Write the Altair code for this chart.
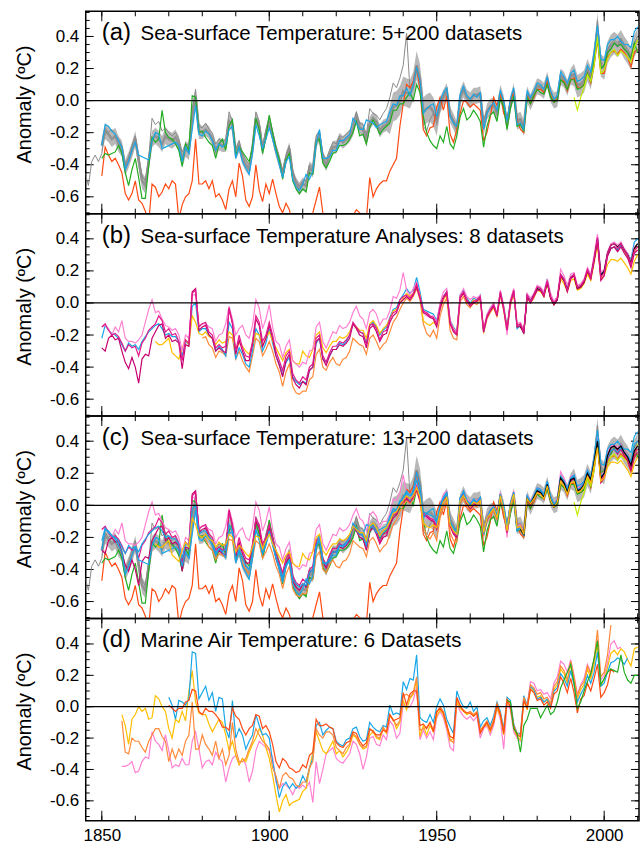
import altair as alt
import pandas as pd

FONT = "Liberation Sans"

# ---------------- tick / label values ----------------
X_MINOR = [1850, 1860, 1870, 1880, 1890, 1900, 1910, 1920, 1930, 1940,
           1950, 1960, 1970, 1980, 1990, 2000, 2010]
X_MAJOR = [1850, 1900, 1950, 2000]
Y_MINOR = [-0.70, -0.65, -0.60, -0.55, -0.50, -0.45, -0.40, -0.35, -0.30,
           -0.25, -0.20, -0.15, -0.10, -0.05, 0.00, 0.05, 0.10, 0.15, 0.20,
           0.25, 0.30, 0.35, 0.40, 0.45, 0.50, 0.55]
Y_MAJOR = [-0.6, -0.4, -0.2, 0.0, 0.2, 0.4]

PANEL_TAGS = ["(a)", "(b)", "(c)", "(d)"]
PANEL_TEXTS = ["Sea-surface Temperature: 5+200 datasets",
               "Sea-surface Temperature Analyses: 8 datasets",
               "Sea-surface Temperature: 13+200 datasets",
               "Marine Air Temperature: 6 Datasets"]
Y_TITLE = "Anomaly (ºC)"

# ---------------- SST: 200-member ensemble (1850-2010) ----------------
HADSST_MED = [
    -0.28, -0.19, -0.21, -0.24, -0.22, -0.27, -0.30, -0.42, -0.37, -0.31,
    -0.24, -0.37, -0.50, -0.53, -0.38, -0.24, -0.22, -0.24, -0.27, -0.22,
    -0.24, -0.25, -0.23, -0.27, -0.37, -0.30, -0.32, -0.10, 0.03, -0.19,
    -0.20, -0.18, -0.20, -0.24, -0.31, -0.27, -0.28, -0.28, -0.13, -0.15,
    -0.33, -0.28, -0.36, -0.40, -0.43, -0.30, -0.11, -0.16, -0.31, -0.21,
    -0.13, -0.22, -0.31, -0.38, -0.46, -0.36, -0.30, -0.46, -0.52, -0.55,
    -0.52, -0.53, -0.42, -0.44, -0.25, -0.22, -0.36, -0.40, -0.34, -0.29,
    -0.29, -0.24, -0.26, -0.24, -0.22, -0.18, -0.10, -0.17, -0.18, -0.25,
    -0.14, -0.11, -0.13, -0.19, -0.16, -0.15, -0.12, -0.04, -0.03, 0.00,
    0.06, 0.05, 0.04, 0.09, 0.22, 0.14, -0.07, -0.05, -0.04, -0.07,
    -0.13, -0.03, 0.02, 0.06, -0.09, -0.13, -0.18, 0.02, 0.07, 0.02,
    0.00, 0.03, 0.03, 0.04, -0.17, -0.07, -0.04, -0.03, -0.08, 0.05,
    -0.02, -0.15, -0.02, 0.06, -0.13, -0.12, -0.17, 0.04, -0.01, 0.04,
    0.09, 0.08, 0.06, 0.13, 0.04, 0.00, 0.01, 0.15, 0.13, 0.08,
    0.15, 0.16, 0.09, 0.10, 0.12, 0.19, 0.14, 0.27, 0.44, 0.22,
    0.20, 0.30, 0.34, 0.36, 0.34, 0.37, 0.33, 0.30, 0.26, 0.34,
    0.38]
HADSST_LO = [
    -0.33, -0.24, -0.26, -0.29, -0.27, -0.32, -0.35, -0.47, -0.42, -0.36,
    -0.29, -0.42, -0.55, -0.58, -0.43, -0.29, -0.27, -0.29, -0.32, -0.27,
    -0.29, -0.30, -0.28, -0.32, -0.42, -0.35, -0.37, -0.15, -0.02, -0.24,
    -0.24, -0.22, -0.24, -0.28, -0.35, -0.31, -0.32, -0.32, -0.17, -0.19,
    -0.37, -0.32, -0.40, -0.44, -0.47, -0.34, -0.15, -0.20, -0.35, -0.25,
    -0.17, -0.26, -0.35, -0.42, -0.50, -0.40, -0.34, -0.50, -0.56, -0.59,
    -0.56, -0.57, -0.46, -0.48, -0.29, -0.26, -0.40, -0.44, -0.38, -0.33,
    -0.33, -0.28, -0.30, -0.28, -0.26, -0.22, -0.14, -0.21, -0.22, -0.29,
    -0.18, -0.15, -0.17, -0.23, -0.20, -0.19, -0.21, -0.13, -0.12, -0.09,
    -0.03, -0.04, -0.05, 0.00, 0.13, 0.05, -0.16, -0.14, -0.13, -0.16,
    -0.22, -0.08, -0.03, 0.01, -0.14, -0.18, -0.23, -0.03, 0.02, -0.03,
    -0.05, -0.02, -0.02, -0.01, -0.22, -0.12, -0.09, -0.08, -0.13, 0.00,
    -0.07, -0.20, -0.07, 0.01, -0.18, -0.17, -0.22, -0.01, -0.06, -0.01,
    0.04, 0.03, 0.01, 0.08, -0.01, -0.05, -0.04, 0.10, 0.08, 0.03,
    0.10, 0.09, 0.02, 0.03, 0.05, 0.12, 0.07, 0.20, 0.36, 0.15,
    0.13, 0.23, 0.27, 0.29, 0.27, 0.30, 0.26, 0.23, 0.19, 0.27,
    0.31]
HADSST_HI = [
    -0.23, -0.14, -0.16, -0.19, -0.17, -0.22, -0.25, -0.37, -0.32, -0.26,
    -0.19, -0.32, -0.45, -0.48, -0.33, -0.19, -0.17, -0.19, -0.22, -0.17,
    -0.19, -0.20, -0.18, -0.22, -0.32, -0.25, -0.27, -0.05, 0.08, -0.14,
    -0.16, -0.14, -0.16, -0.20, -0.27, -0.23, -0.24, -0.24, -0.09, -0.11,
    -0.29, -0.24, -0.32, -0.36, -0.39, -0.26, -0.07, -0.12, -0.27, -0.17,
    -0.09, -0.18, -0.27, -0.34, -0.42, -0.32, -0.26, -0.42, -0.48, -0.51,
    -0.48, -0.49, -0.38, -0.40, -0.21, -0.18, -0.32, -0.36, -0.30, -0.25,
    -0.25, -0.20, -0.22, -0.20, -0.18, -0.14, -0.06, -0.13, -0.14, -0.21,
    -0.10, -0.07, -0.09, -0.15, -0.12, -0.11, -0.03, 0.05, 0.06, 0.09,
    0.15, 0.14, 0.13, 0.18, 0.31, 0.23, 0.02, 0.04, 0.05, 0.02,
    -0.04, 0.02, 0.07, 0.11, -0.04, -0.08, -0.13, 0.07, 0.12, 0.07,
    0.05, 0.08, 0.08, 0.09, -0.12, -0.02, 0.01, 0.02, -0.03, 0.10,
    0.03, -0.10, 0.03, 0.11, -0.08, -0.07, -0.12, 0.09, 0.04, 0.09,
    0.14, 0.13, 0.11, 0.18, 0.09, 0.05, 0.06, 0.20, 0.18, 0.13,
    0.20, 0.23, 0.16, 0.17, 0.19, 0.26, 0.21, 0.34, 0.55, 0.29,
    0.27, 0.37, 0.41, 0.43, 0.41, 0.44, 0.40, 0.37, 0.33, 0.41,
    0.45]

# ---------------- SST datasets (panel a) ----------------
GRAY_RAW_START = 1845
GRAY_RAW = [
    -0.45, -0.53, -0.38, -0.34, -0.38,
    -0.33, -0.17, -0.20, -0.18, -0.21, -0.24, -0.28, -0.40, -0.35, -0.28,
    -0.22, -0.35, -0.47, -0.50, -0.36, -0.11, -0.15, -0.13, -0.19, -0.17,
    -0.20, -0.22, -0.20, -0.24, -0.32, -0.27, -0.28, -0.05, 0.07, -0.16,
    -0.17, -0.14, -0.18, -0.20, -0.27, -0.24, -0.26, -0.24, -0.07, -0.13,
    -0.30, -0.25, -0.33, -0.37, -0.40, -0.27, -0.07, -0.13, -0.28, -0.18,
    -0.10, -0.19, -0.28, -0.35, -0.44, -0.34, -0.28, -0.44, -0.50, -0.53,
    -0.50, -0.50, -0.40, -0.42, -0.22, -0.19, -0.33, -0.37, -0.31, -0.26,
    -0.27, -0.22, -0.23, -0.21, -0.19, -0.14, -0.07, -0.14, -0.15, -0.21,
    -0.05, -0.08, -0.09, -0.12, -0.08, -0.05, 0.02, 0.11, 0.08, 0.14,
    0.22, 0.42, 0.07, 0.12, 0.18, 0.10, -0.16, -0.19, -0.12, -0.08,
    -0.12, -0.02, 0.03, 0.07, -0.08, -0.12, -0.16, 0.03, 0.08, 0.03,
    0.01, 0.04, 0.04, 0.05, -0.12, -0.06, -0.03, -0.02, -0.07, 0.06,
    -0.01, -0.14, -0.01, 0.07, -0.12, -0.11, -0.16, 0.05, 0.00, 0.05,
    0.10, 0.09, 0.07, 0.14, 0.05, 0.01, 0.02, 0.16, 0.14, 0.09,
    0.16, 0.17, 0.10, 0.11, 0.13, 0.20, 0.15, 0.28, 0.50, 0.24,
    0.22, 0.32, 0.36, 0.38, 0.36, 0.39, 0.35, 0.32, 0.28, 0.36,
    0.40]
SST_BLUE = [
    -0.28, -0.15, -0.16, -0.19, -0.21, -0.25, -0.29, -0.43, -0.38, -0.31,
    -0.26, -0.34, -0.35, -0.36, -0.37, -0.25, -0.20, -0.21, -0.30, -0.29,
    -0.28, -0.27, -0.26, -0.28, -0.38, -0.29, -0.33, -0.18, -0.03, -0.21,
    -0.22, -0.19, -0.21, -0.25, -0.31, -0.27, -0.29, -0.27, -0.18, -0.16,
    -0.36, -0.29, -0.38, -0.42, -0.46, -0.33, -0.15, -0.22, -0.30, -0.24,
    -0.17, -0.24, -0.32, -0.40, -0.48, -0.38, -0.35, -0.49, -0.54, -0.56,
    -0.52, -0.46, -0.49, -0.44, -0.27, -0.18, -0.36, -0.36, -0.35, -0.31,
    -0.31, -0.25, -0.25, -0.23, -0.21, -0.11, -0.14, -0.18, -0.18, -0.12,
    -0.13, -0.14, -0.17, -0.15, -0.14, -0.13, -0.07, -0.02, -0.03, 0.03,
    0.03, 0.08, 0.03, 0.10, 0.21, 0.12, -0.08, -0.05, -0.03, -0.02,
    -0.10, 0.00, 0.05, 0.08, -0.10, -0.14, -0.16, 0.04, 0.09, 0.03,
    0.01, 0.04, 0.02, 0.05, -0.18, -0.08, -0.04, -0.01, -0.06, 0.06,
    0.00, -0.13, 0.01, 0.08, -0.15, -0.14, -0.18, 0.06, 0.02, 0.06,
    0.11, 0.10, 0.07, 0.15, 0.06, 0.01, 0.03, 0.18, 0.15, 0.11,
    0.17, 0.19, 0.12, 0.13, 0.15, 0.22, 0.18, 0.30, 0.47, 0.26,
    0.25, 0.35, 0.38, 0.38, 0.40, 0.37, 0.35, 0.35, 0.33, 0.43,
    0.46]
SST_GREEN = [
    -0.36, -0.33, -0.34, -0.33, -0.32, -0.28, -0.33, -0.45, -0.53, -0.43,
    -0.36, -0.48, -0.61, -0.61, -0.41, -0.23, -0.26, -0.24, -0.06, -0.20,
    -0.23, -0.24, -0.27, -0.31, -0.41, -0.27, -0.31, 0.03, 0.02, -0.20,
    -0.19, -0.23, -0.26, -0.28, -0.36, -0.27, -0.24, -0.31, -0.16, -0.12,
    -0.34, -0.29, -0.32, -0.35, -0.38, -0.29, -0.11, -0.18, -0.33, -0.23,
    -0.09, -0.20, -0.30, -0.37, -0.49, -0.37, -0.33, -0.50, -0.55, -0.58,
    -0.55, -0.57, -0.45, -0.46, -0.26, -0.24, -0.39, -0.42, -0.38, -0.33,
    -0.32, -0.28, -0.28, -0.27, -0.24, -0.20, -0.13, -0.22, -0.21, -0.27,
    -0.17, -0.12, -0.16, -0.21, -0.18, -0.16, -0.14, -0.06, -0.06, -0.02,
    -0.02, 0.02, 0.05, 0.00, 0.10, 0.05, -0.10, -0.20, -0.25, -0.28,
    -0.30, -0.22, -0.26, -0.16, -0.27, -0.30, -0.22, -0.10, -0.05, -0.12,
    -0.10, -0.06, -0.09, -0.13, -0.29, -0.16, -0.09, -0.07, -0.13, 0.01,
    -0.04, -0.18, -0.05, 0.03, -0.16, -0.15, -0.19, 0.02, -0.02, 0.03,
    0.07, 0.05, 0.04, 0.10, 0.02, -0.01, 0.00, 0.13, 0.11, 0.07,
    0.13, 0.13, 0.07, 0.08, 0.10, 0.17, 0.12, 0.25, 0.40, 0.20,
    0.22, 0.30, 0.32, 0.36, 0.34, 0.35, 0.32, 0.30, 0.26, 0.36,
    0.30]
SST_RED = [
    -0.47, -0.29, -0.34, -0.38, -0.36, -0.40, -0.45, -0.58, -0.62, -0.58,
    -0.50, -0.62, -0.64, -0.69, -0.76, -0.52, -0.54, -0.60, -0.57, -0.52,
    -0.55, -0.50, -0.52, -0.74, -0.65, -0.60, -0.58, -0.50, -0.24, -0.52,
    -0.52, -0.50, -0.55, -0.50, -0.60, -0.58, -0.62, -0.68, -0.55, -0.50,
    -0.60, -0.39, -0.47, -0.62, -0.66, -0.60, -0.40, -0.56, -0.63, -0.52,
    -0.58, -0.49, -0.58, -0.66, -0.70, -0.64, -0.68, -0.78, -0.72, -0.80,
    -0.74, -0.82, -0.76, -0.70, -0.62, -0.54, -0.70, -0.80, -0.78, -0.72,
    -0.74, -0.80, -0.76, -0.74, -0.73, -0.72, -0.68, -0.70, -0.72, -0.74,
    -0.48, -0.60, -0.55, -0.52, -0.50, -0.50, -0.44, -0.40, -0.36, -0.16,
    -0.02, 0.10, 0.08, 0.12, 0.21, 0.07, -0.18, -0.22, -0.17, -0.16,
    -0.04, 0.02, -0.06, 0.03, -0.21, -0.26, -0.18, -0.08, 0.00, -0.01,
    -0.04, -0.02, -0.04, -0.06, -0.25, -0.20, -0.10, 0.02, -0.03, 0.04,
    -0.08, -0.12, 0.00, 0.05, -0.12, -0.18, -0.20, 0.03, -0.02, 0.02,
    0.07, 0.07, 0.05, 0.12, 0.03, -0.01, 0.01, 0.13, 0.12, 0.06,
    0.13, 0.14, 0.08, 0.08, 0.10, 0.17, 0.11, 0.22, 0.38, 0.17,
    0.17, 0.27, 0.30, 0.31, 0.29, 0.32, 0.30, 0.27, 0.21, 0.30,
    0.32]
SST_YGREEN_START = 1991
SST_YGREEN = [0.02, -0.06, 0.02, 0.08, 0.16, 0.12, 0.22, 0.40, 0.17,
              0.19, 0.26, 0.30, 0.32, 0.28, 0.31, 0.29, 0.27, 0.24, 0.33,
              0.38]

# ---------------- SST analyses (panel b) ----------------
ANA_DKMAG = [
    -0.28, -0.30, -0.22, -0.20, -0.23, -0.22, -0.30, -0.37, -0.41, -0.34,
    -0.40, -0.50, -0.35, -0.32, -0.33, -0.22, -0.18, -0.14, -0.13, -0.22,
    -0.20, -0.24, -0.23, -0.25, -0.41, -0.26, -0.27, 0.07, 0.09, -0.17,
    -0.15, -0.14, -0.20, -0.22, -0.30, -0.28, -0.30, -0.31, -0.03, -0.13,
    -0.32, -0.23, -0.30, -0.36, -0.36, -0.26, -0.10, -0.14, -0.27, -0.22,
    -0.14, -0.22, -0.33, -0.39, -0.46, -0.36, -0.32, -0.47, -0.51, -0.53,
    -0.49, -0.51, -0.42, -0.40, -0.24, -0.22, -0.35, -0.39, -0.33, -0.29,
    -0.29, -0.26, -0.27, -0.25, -0.22, -0.13, -0.16, -0.20, -0.21, -0.28,
    -0.16, -0.14, -0.18, -0.24, -0.20, -0.19, -0.12, -0.08, -0.06, 0.00,
    0.02, 0.04, 0.02, 0.05, 0.10, 0.03, -0.06, -0.07, -0.09, -0.10,
    -0.15, -0.04, 0.03, 0.06, -0.13, -0.18, -0.20, 0.03, 0.06, 0.01,
    -0.02, 0.00, 0.01, 0.03, -0.18, -0.09, -0.05, -0.02, -0.08, 0.06,
    -0.04, -0.17, 0.00, 0.07, -0.15, -0.14, -0.19, 0.04, 0.00, 0.04,
    0.08, 0.08, 0.04, 0.13, 0.03, -0.01, 0.02, 0.17, 0.14, 0.07,
    0.15, 0.17, 0.09, 0.10, 0.13, 0.20, 0.15, 0.26, 0.39, 0.14,
    0.17, 0.29, 0.34, 0.35, 0.32, 0.35, 0.31, 0.28, 0.22, 0.31,
    0.33]
ANA_MAG = [
    -0.15, -0.13, -0.17, -0.20, -0.19, -0.21, -0.25, -0.30, -0.26, -0.28,
    -0.27, -0.33, -0.25, -0.22, -0.17, -0.15, -0.13, -0.08, -0.11, -0.18,
    -0.16, -0.20, -0.19, -0.24, -0.36, -0.23, -0.25, 0.06, 0.08, -0.15,
    -0.13, -0.12, -0.18, -0.20, -0.28, -0.26, -0.28, -0.27, -0.04, -0.12,
    -0.30, -0.20, -0.28, -0.33, -0.34, -0.24, -0.08, -0.12, -0.24, -0.20,
    -0.12, -0.20, -0.30, -0.36, -0.42, -0.33, -0.30, -0.44, -0.48, -0.50,
    -0.46, -0.48, -0.40, -0.38, -0.22, -0.20, -0.33, -0.37, -0.31, -0.27,
    -0.27, -0.24, -0.25, -0.23, -0.20, -0.12, -0.15, -0.18, -0.19, -0.26,
    -0.14, -0.13, -0.16, -0.23, -0.18, -0.17, -0.10, -0.06, -0.05, 0.02,
    0.04, 0.05, 0.03, 0.06, 0.12, 0.04, -0.05, -0.06, -0.08, -0.09,
    -0.13, -0.02, 0.04, 0.07, -0.12, -0.17, -0.19, 0.04, 0.07, 0.02,
    -0.01, 0.01, 0.02, 0.04, -0.17, -0.08, -0.04, -0.01, -0.07, 0.07,
    -0.03, -0.16, 0.01, 0.08, -0.14, -0.13, -0.18, 0.05, 0.01, 0.05,
    0.10, 0.09, 0.05, 0.14, 0.04, 0.00, 0.03, 0.18, 0.15, 0.08,
    0.16, 0.18, 0.10, 0.11, 0.14, 0.21, 0.16, 0.28, 0.41, 0.16,
    0.19, 0.31, 0.36, 0.37, 0.34, 0.37, 0.33, 0.30, 0.24, 0.33,
    0.35]
ANA_PINK = [
    -0.15, -0.14, -0.16, -0.20, -0.15, -0.18, -0.11, -0.22, -0.24, -0.24,
    -0.25, -0.23, -0.20, -0.12, -0.04, 0.02, -0.06, -0.05, -0.10, -0.14,
    -0.15, -0.17, -0.16, -0.20, -0.30, -0.20, -0.22, 0.05, 0.05, -0.14,
    -0.13, -0.13, -0.15, -0.16, -0.24, -0.20, -0.19, -0.13, -0.02, -0.10,
    -0.20, -0.16, -0.14, -0.20, -0.22, -0.14, 0.02, -0.03, -0.16, -0.10,
    -0.01, -0.15, -0.24, -0.26, -0.34, -0.27, -0.23, -0.36, -0.38, -0.40,
    -0.37, -0.38, -0.30, -0.29, -0.15, -0.12, -0.24, -0.28, -0.23, -0.18,
    -0.19, -0.14, -0.16, -0.15, -0.12, -0.06, -0.02, -0.08, -0.10, -0.16,
    -0.06, -0.04, -0.07, -0.14, -0.10, -0.10, -0.05, 0.04, 0.03, 0.08,
    0.19, 0.08, 0.05, 0.09, 0.13, 0.04, -0.06, -0.08, -0.09, -0.08,
    -0.12, 0.00, 0.07, 0.09, -0.11, -0.16, -0.18, 0.05, 0.09, 0.04,
    0.02, 0.04, 0.03, 0.05, -0.17, -0.07, -0.03, 0.00, -0.07, 0.08,
    -0.02, -0.20, 0.02, 0.09, -0.13, -0.12, -0.17, 0.06, 0.03, 0.06,
    0.11, 0.10, 0.07, 0.15, 0.06, 0.01, 0.04, 0.21, 0.17, 0.11,
    0.18, 0.19, 0.11, 0.12, 0.15, 0.22, 0.18, 0.30, 0.43, 0.19,
    0.21, 0.32, 0.37, 0.38, 0.36, 0.38, 0.34, 0.31, 0.26, 0.35,
    0.37]
ANA_BLUE = [
    -0.22, -0.14, -0.17, -0.19, -0.20, -0.22, -0.26, -0.30, -0.25, -0.27,
    -0.26, -0.29, -0.24, -0.21, -0.18, -0.16, -0.14, -0.13, -0.16, -0.20,
    -0.19, -0.21, -0.21, -0.24, -0.33, -0.24, -0.26, -0.02, 0.00, -0.18,
    -0.16, -0.16, -0.20, -0.22, -0.30, -0.27, -0.29, -0.33, -0.12, -0.16,
    -0.35, -0.28, -0.32, -0.38, -0.40, -0.30, -0.16, -0.20, -0.30, -0.25,
    -0.16, -0.25, -0.33, -0.38, -0.45, -0.37, -0.34, -0.46, -0.49, -0.51,
    -0.49, -0.50, -0.42, -0.40, -0.25, -0.22, -0.35, -0.37, -0.33, -0.29,
    -0.29, -0.25, -0.26, -0.24, -0.20, -0.13, -0.15, -0.18, -0.19, -0.25,
    -0.14, -0.12, -0.15, -0.20, -0.17, -0.15, -0.09, -0.04, -0.03, 0.02,
    0.05, 0.09, 0.06, 0.08, 0.16, 0.07, -0.04, -0.05, -0.06, -0.07,
    -0.11, -0.01, 0.04, 0.07, -0.11, -0.15, -0.18, 0.05, 0.08, 0.03,
    0.00, 0.03, 0.02, 0.05, -0.18, -0.08, -0.03, -0.01, -0.07, 0.07,
    -0.02, -0.15, 0.01, 0.08, -0.16, -0.14, -0.19, 0.05, 0.02, 0.05,
    0.10, 0.09, 0.06, 0.15, 0.04, 0.00, 0.03, 0.18, 0.15, 0.09,
    0.16, 0.18, 0.10, 0.11, 0.14, 0.21, 0.17, 0.28, 0.41, 0.18,
    0.20, 0.30, 0.34, 0.35, 0.33, 0.36, 0.33, 0.31, 0.27, 0.38,
    0.40]
ANA_GOLD_START = 1866
ANA_GOLD = [
    -0.24, -0.26, -0.26, -0.24,
    -0.22, -0.31, -0.33, -0.35, -0.28, -0.23, -0.26, -0.08, -0.12, -0.19,
    -0.20, -0.18, -0.21, -0.22, -0.26, -0.23, -0.25, -0.24, -0.18, -0.20,
    -0.29, -0.25, -0.27, -0.30, -0.32, -0.26, -0.19, -0.20, -0.27, -0.22,
    -0.18, -0.24, -0.28, -0.32, -0.36, -0.31, -0.29, -0.36, -0.38, -0.38,
    -0.30, -0.33, -0.34, -0.29, -0.20, -0.18, -0.28, -0.31, -0.27, -0.24,
    -0.24, -0.21, -0.22, -0.21, -0.18, -0.13, -0.15, -0.17, -0.17, -0.22,
    -0.13, -0.11, -0.14, -0.19, -0.16, -0.14, -0.10, -0.05, -0.04, 0.00,
    0.03, 0.06, 0.04, 0.06, 0.11, 0.05, -0.11, -0.13, -0.14, -0.12,
    -0.14, -0.04, 0.02, 0.05, -0.12, -0.16, -0.18, 0.03, 0.06, 0.02,
    -0.01, 0.02, 0.01, 0.03, -0.17, -0.08, -0.05, -0.02, -0.08, 0.06,
    -0.03, -0.16, 0.00, 0.07, -0.14, -0.13, -0.18, 0.04, 0.01, 0.04,
    0.08, 0.07, 0.04, 0.12, 0.03, -0.01, 0.02, 0.15, 0.12, 0.07,
    0.14, 0.15, 0.08, 0.09, 0.12, 0.18, 0.14, 0.25, 0.36, 0.15,
    0.17, 0.24, 0.27, 0.27, 0.26, 0.28, 0.25, 0.22, 0.18, 0.26,
    0.30]
ANA_ORANGE_START = 1880
ANA_ORANGE = [
    -0.22, -0.21, -0.26, -0.28, -0.34, -0.30, -0.31, -0.33, -0.21, -0.22,
    -0.35, -0.30, -0.36, -0.40, -0.43, -0.33, -0.22, -0.24, -0.33, -0.29,
    -0.24, -0.30, -0.38, -0.43, -0.52, -0.43, -0.38, -0.52, -0.56, -0.57,
    -0.55, -0.55, -0.48, -0.46, -0.32, -0.29, -0.40, -0.42, -0.37, -0.34,
    -0.38, -0.39, -0.35, -0.34, -0.30, -0.22, -0.24, -0.26, -0.27, -0.32,
    -0.22, -0.20, -0.24, -0.29, -0.26, -0.24, -0.18, -0.12, -0.09, -0.04,
    0.00, 0.03, 0.01, 0.04, 0.09, 0.02, -0.13, -0.19, -0.21, -0.17,
    -0.22, -0.08, -0.01, 0.03, -0.17, -0.22, -0.23, 0.01, 0.04, -0.01,
    -0.03, 0.00, -0.01, 0.02, -0.19, -0.10, -0.06, -0.03, -0.09, 0.05,
    -0.05, -0.18, -0.02, 0.06, -0.15, -0.15, -0.19, 0.03, 0.00, 0.03,
    0.08, 0.08, 0.04, 0.13, 0.03, -0.01, 0.02, 0.16, 0.14, 0.08,
    0.15, 0.17, 0.09, 0.10, 0.13, 0.19, 0.15, 0.27, 0.39, 0.17,
    0.19, 0.30, 0.34, 0.35, 0.33, 0.36, 0.32, 0.29, 0.24, 0.32,
    0.35]
ANA_BLACK_START = 1975
ANA_BLACK = [
    -0.15, -0.18, 0.04, 0.01, 0.05,
    0.09, 0.08, 0.05, 0.13, 0.03, -0.01, 0.02, 0.17, 0.14, 0.08,
    0.16, 0.17, 0.09, 0.10, 0.13, 0.20, 0.16, 0.27, 0.40, 0.17,
    0.20, 0.31, 0.36, 0.37, 0.35, 0.37, 0.33, 0.30, 0.25, 0.34,
    0.37]

# ---------------- Marine air temperature (panel d) ----------------
MAT_GOLD_START = 1856
MAT_GOLD = [
    -0.05, -0.12, -0.24, -0.08,
    -0.05, 0.00, -0.03, -0.01, -0.08, -0.07, 0.07, 0.05, 0.00, -0.03,
    -0.14, -0.20, -0.08, -0.10, -0.03, -0.09, 0.10, 0.23, 0.03, -0.04,
    -0.05, -0.05, -0.11, -0.16, -0.12, -0.08, -0.10, -0.18, -0.28, -0.22,
    -0.31, -0.37, -0.33, -0.35, -0.29, -0.24, -0.20, -0.14, -0.18, -0.26,
    -0.33, -0.44, -0.56, -0.67, -0.60, -0.56, -0.63, -0.61, -0.60, -0.59,
    -0.54, -0.52, -0.40, -0.29, -0.16, -0.22, -0.28, -0.30, -0.26, -0.22,
    -0.30, -0.28, -0.32, -0.29, -0.25, -0.18, -0.20, -0.24, -0.27, -0.26,
    -0.18, -0.16, -0.20, -0.21, -0.14, -0.17, -0.06, -0.08, -0.14, -0.10,
    0.04, -0.02, 0.05, 0.08, 0.17, -0.19, -0.12, -0.18, -0.12, -0.16,
    -0.06, -0.02, -0.05, -0.13, -0.22, -0.20, 0.03, -0.01, -0.03, -0.05,
    -0.04, -0.06, -0.04, -0.16, -0.13, -0.11, -0.16, -0.10, -0.01, -0.06,
    -0.18, 0.03, 0.00, -0.14, -0.19, -0.21, 0.04, -0.02, 0.12, 0.10,
    0.06, 0.07, 0.03, 0.04, 0.00, 0.11, 0.14, 0.24, 0.21, 0.15,
    0.27, 0.17, 0.05, 0.11, 0.14, 0.24, 0.18, 0.27, 0.40, 0.14,
    0.17, 0.25, 0.34, 0.36, 0.33, 0.37, 0.35, 0.30, 0.26, 0.37,
    0.38]
MAT_BLUE_START = 1870
MAT_BLUE = [
    0.06, 0.01, -0.08, 0.04, 0.03, 0.01, 0.05, 0.35, 0.34, 0.05,
    0.09, 0.13, 0.04, 0.09, -0.03, 0.06, 0.05, -0.14, -0.20, 0.04,
    -0.20, -0.14, -0.18, -0.27, -0.22, -0.18, -0.05, -0.12, -0.18, -0.17,
    -0.20, -0.35, -0.46, -0.58, -0.51, -0.48, -0.52, -0.49, -0.52, -0.50,
    -0.44, -0.48, -0.39, -0.33, -0.12, -0.10, -0.18, -0.15, -0.13, -0.14,
    -0.22, -0.24, -0.25, -0.21, -0.20, -0.14, -0.13, -0.19, -0.22, -0.21,
    -0.10, -0.13, -0.15, -0.16, -0.12, -0.13, 0.01, -0.05, -0.04, -0.05,
    0.16, 0.11, 0.18, 0.17, 0.33, -0.07, -0.09, -0.10, -0.05, -0.10,
    0.00, 0.05, 0.01, -0.08, -0.13, -0.17, 0.10, 0.04, 0.00, -0.01,
    0.03, -0.03, 0.00, -0.13, -0.09, -0.07, -0.12, -0.06, 0.03, -0.03,
    -0.14, 0.06, 0.04, -0.11, -0.17, -0.17, 0.07, 0.01, 0.13, 0.11,
    0.05, 0.06, 0.03, 0.05, 0.01, 0.10, 0.12, 0.21, 0.18, 0.13,
    0.23, 0.14, 0.03, 0.08, 0.12, 0.20, 0.15, 0.22, 0.35, 0.13,
    0.15, 0.22, 0.28, 0.29, 0.31, 0.30, 0.27, 0.31]
MAT_RED_START = 1870
MAT_RED = [
    0.01, -0.01, -0.03, -0.01, -0.01, 0.03, 0.04, 0.11, 0.10, -0.03,
    -0.05, -0.01, -0.03, -0.03, -0.05, -0.08, -0.13, -0.13, -0.15, -0.01,
    -0.06, -0.08, -0.14, -0.18, -0.14, -0.12, -0.05, -0.06, -0.14, -0.12,
    -0.16, -0.24, -0.35, -0.39, -0.33, -0.35, -0.39, -0.40, -0.42, -0.41,
    -0.37, -0.39, -0.31, -0.29, -0.08, -0.12, -0.12, -0.11, -0.13, -0.14,
    -0.23, -0.25, -0.26, -0.23, -0.22, -0.16, -0.17, -0.22, -0.25, -0.23,
    -0.14, -0.16, -0.18, -0.18, -0.15, -0.16, -0.05, -0.09, -0.08, -0.07,
    0.09, 0.01, 0.08, 0.10, 0.10, -0.12, -0.11, -0.14, -0.10, -0.16,
    -0.03, -0.01, -0.04, -0.12, -0.19, -0.20, 0.06, 0.01, -0.03, -0.04,
    -0.04, -0.06, -0.04, -0.17, -0.13, -0.10, -0.15, -0.10, 0.01, -0.05,
    -0.17, 0.04, 0.00, -0.13, -0.18, -0.19, 0.04, -0.01, 0.11, 0.09,
    0.04, 0.05, 0.01, 0.03, -0.01, 0.08, 0.10, 0.19, 0.15, 0.09,
    0.18, 0.09, -0.04, 0.05, 0.07, 0.15, 0.10, 0.18, 0.27, 0.06,
    0.09, 0.14, 0.24, 0.22]
MAT_ORANGE_START = 1856
MAT_ORANGE = [
    -0.09, -0.29, -0.30, -0.20,
    -0.22, -0.22, -0.26, -0.29, -0.22, -0.18, -0.14, -0.14, -0.19, -0.22,
    -0.35, -0.27, -0.33, -0.27, -0.31, -0.22, -0.18, 0.03, -0.27, -0.27,
    -0.18, -0.24, -0.27, -0.31, -0.22, -0.33, -0.27, -0.37, -0.31, -0.10,
    -0.27, -0.35, -0.35, -0.33, -0.27, -0.22, -0.14, -0.18, -0.22, -0.24,
    -0.27, -0.39, -0.44, -0.52, -0.44, -0.42, -0.45, -0.46, -0.50, -0.51,
    -0.48, -0.48, -0.39, -0.35, -0.14, -0.18, -0.20, -0.16, -0.16, -0.18,
    -0.26, -0.28, -0.30, -0.26, -0.24, -0.17, -0.19, -0.24, -0.26, -0.25,
    -0.15, -0.15, -0.19, -0.20, -0.13, -0.16, -0.05, -0.08, -0.12, -0.09,
    0.07, 0.08, 0.06, 0.09, 0.19, -0.15, -0.14, -0.13, -0.10, -0.15,
    -0.04, 0.00, -0.03, -0.11, -0.21, -0.23, 0.05, 0.00, -0.02, -0.04,
    -0.03, -0.05, -0.03, -0.15, -0.12, -0.09, -0.14, -0.08, 0.02, -0.04,
    -0.16, 0.05, 0.02, -0.12, -0.17, -0.18, 0.06, 0.00, 0.14, 0.12,
    0.08, 0.09, 0.05, 0.06, 0.02, 0.13, 0.16, 0.26, 0.23, 0.17,
    0.29, 0.19, 0.07, 0.13, 0.16, 0.26, 0.21, 0.30, 0.49, 0.19,
    0.22, 0.33, 0.52]
MAT_PINK_START = 1856
MAT_PINK = [
    -0.38, -0.38, -0.37, -0.35,
    -0.42, -0.41, -0.35, -0.32, -0.33, -0.16, -0.22, -0.24, -0.28, -0.18,
    -0.28, -0.39, -0.37, -0.38, -0.33, -0.37, -0.37, -0.22, -0.16, -0.27,
    -0.39, -0.35, -0.34, -0.37, -0.29, -0.33, -0.35, -0.48, -0.39, -0.33,
    -0.31, -0.37, -0.33, -0.37, -0.48, -0.41, -0.28, -0.22, -0.24, -0.26,
    -0.28, -0.32, -0.48, -0.52, -0.49, -0.50, -0.52, -0.56, -0.51, -0.52,
    -0.50, -0.52, -0.48, -0.61, -0.35, -0.49, -0.40, -0.30, -0.28, -0.26,
    -0.33, -0.35, -0.36, -0.33, -0.30, -0.22, -0.24, -0.30, -0.40, -0.32,
    -0.20, -0.19, -0.24, -0.25, -0.18, -0.21, -0.09, -0.12, -0.20, -0.17,
    0.02, -0.01, 0.00, 0.04, 0.13, -0.21, -0.15, -0.20, -0.16, -0.21,
    -0.07, -0.03, -0.07, -0.15, -0.26, -0.28, 0.02, -0.03, -0.06, -0.08,
    -0.06, -0.09, -0.06, -0.20, -0.14, -0.12, -0.18, -0.12, -0.01, -0.08,
    -0.27, 0.02, -0.02, -0.16, -0.20, -0.22, 0.06, 0.01, 0.16, 0.15,
    0.10, 0.11, 0.08, 0.09, 0.05, 0.15, 0.19, 0.29, 0.27, 0.22,
    0.30, 0.20, 0.08, 0.14, 0.18, 0.27, 0.22, 0.30, 0.43, 0.17,
    0.20, 0.28, 0.40, 0.42, 0.37, 0.38]
MAT_GREEN_START = 1971
MAT_GREEN = [
    0.04, 0.03, -0.14, -0.17, -0.29, -0.12, -0.08, -0.01, -0.01,
    -0.01, -0.07, -0.03, 0.01, -0.05, -0.03, 0.03, 0.12, 0.17, 0.22,
    0.27, 0.15, -0.01, 0.03, 0.10, 0.16, 0.21, 0.31, 0.42, 0.14,
    0.18, 0.22, 0.24, 0.23, 0.22, 0.33, 0.22, 0.17, 0.15, 0.20,
    0.20]

# ---------------- colours ----------------
C_BLUE = "#18a6e8"
C_GREEN = "#21ad21"
C_RED = "#ff4a12"
C_YGREEN = "#c6ec00"
C_GRAYLINE = "#8a8a8a"
C_BAND = "#b8b8b8"
C_BANDCORE = "#939393"
C_DKMAG = "#c8006e"
C_MAG = "#e2198a"
C_PINK = "#ff80d2"
C_GOLD = "#ffbf00"
C_ORANGE = "#ff8a3a"

W, H = 555, 203
XS = alt.Scale(domain=[1845.2, 2010.4], nice=False, zero=False)
YDOM_ABC = [-0.705, 0.557]
YDOM_D = [-0.727, 0.563]


def frame(values, start):
    ys = [start + i for i, v in enumerate(values) if v is not None]
    vs = [v for v in values if v is not None]
    return pd.DataFrame({"year": ys, "v": vs})


def panel(idx, ydom, lines, band=False, xlabels=False):
    ys = alt.Scale(domain=ydom, nice=False, zero=False)
    yaxis = alt.Axis(values=Y_MAJOR, title=Y_TITLE, grid=False, ticks=False,
                     tickSize=0, domain=False, labelFontSize=17, labelFont=FONT,
                     labelColor="black", labelPadding=7,
                     labelExpr="(datum.value < 0 ? '-' : '') + format(abs(datum.value), '.1f')",
                     titleFont=FONT, titleFontSize=20, titleFontWeight="normal",
                     titleColor="black", titleX=-55, titleY=93, titleAngle=270,
                     titleAlign="center", titleBaseline="alphabetic")
    if xlabels:
        xaxis = alt.Axis(values=X_MAJOR, format="d", title=None, grid=False,
                         ticks=False, tickSize=0, domain=False, labelFontSize=17,
                         labelFont=FONT, labelColor="black", labelPadding=7,
                         labelFlush=False)
    else:
        xaxis = None

    def X(field="year:Q"):
        return alt.X(field, scale=XS, axis=xaxis)

    def Y(field="v:Q"):
        return alt.Y(field, scale=ys, axis=yaxis)

    layers = []
    xt = pd.DataFrame({"year": X_MINOR})
    xm = pd.DataFrame({"year": X_MAJOR})
    yt = pd.DataFrame({"v": Y_MINOR})
    ym = pd.DataFrame({"v": Y_MAJOR})
    # inward tick marks
    for df, (a, b) in [(xt, (0, 5)), (xt, (H, H - 5)), (xm, (0, 10)), (xm, (H, H - 10))]:
        layers.append(alt.Chart(df).mark_rule(color="black", strokeWidth=1).encode(
            x=X(), y=alt.value(a), y2=alt.value(b)))
    for df, (a, b) in [(yt, (0, 4)), (yt, (W, W - 4)), (ym, (0, 8)), (ym, (W, W - 8))]:
        layers.append(alt.Chart(df).mark_rule(color="black", strokeWidth=1).encode(
            y=Y(), x=alt.value(a), x2=alt.value(b)))
    if band:
        bdf = pd.DataFrame({"year": list(range(1850, 1850 + len(HADSST_LO))),
                            "lo": HADSST_LO, "hi": HADSST_HI})
        layers.append(alt.Chart(bdf).mark_area(color=C_BAND, clip=True).encode(
            x=X(), y=Y("lo:Q"), y2="hi:Q"))
        layers.append(alt.Chart(frame(HADSST_MED, 1850)).mark_line(
            color=C_BANDCORE, strokeWidth=2.6, clip=True).encode(x=X(), y=Y()))
    for vals, start, color, width in lines:
        layers.append(alt.Chart(frame(vals, start)).mark_line(
            color=color, strokeWidth=width, clip=True).encode(x=X(), y=Y()))
    # zero line
    layers.append(alt.Chart(pd.DataFrame({"v": [0.0]})).mark_rule(
        color="black", strokeWidth=1.2).encode(
        y=Y(), x=alt.value(0), x2=alt.value(W)))
    # panel labels
    layers.append(alt.Chart(pd.DataFrame({"t": [PANEL_TAGS[idx]]})).mark_text(
        align="left", baseline="alphabetic", font=FONT, fontSize=24, color="black").encode(
        x=alt.value(16), y=alt.value(29), text="t:N"))
    layers.append(alt.Chart(pd.DataFrame({"t": [PANEL_TEXTS[idx]]})).mark_text(
        align="left", baseline="alphabetic", font=FONT, fontSize=20.5, color="black").encode(
        x=alt.value(55), y=alt.value(29), text="t:N"))
    return alt.layer(*layers).properties(width=W, height=H)


LW = 1.2
lines_a = [
    (GRAY_RAW, GRAY_RAW_START, C_GRAYLINE, 1.0),
    (SST_RED, 1850, C_RED, LW),
    (SST_GREEN, 1850, C_GREEN, LW),
    (SST_YGREEN, SST_YGREEN_START, C_YGREEN, LW),
    (SST_BLUE, 1850, C_BLUE, LW),
]
lines_b = [
    (ANA_ORANGE, ANA_ORANGE_START, C_ORANGE, LW),
    (ANA_BLUE, 1850, C_BLUE, LW),
    (ANA_GOLD, ANA_GOLD_START, C_GOLD, LW),
    (ANA_PINK, 1850, C_PINK, LW),
    (ANA_BLACK, ANA_BLACK_START, "black", LW),
    (ANA_DKMAG, 1850, C_DKMAG, LW),
    (ANA_MAG, 1850, C_MAG, LW),
]
lines_c = [
    (GRAY_RAW, GRAY_RAW_START, C_GRAYLINE, 1.0),
    (SST_RED, 1850, C_RED, LW),
    (SST_GREEN, 1850, C_GREEN, LW),
    (SST_YGREEN, SST_YGREEN_START, C_YGREEN, LW),
    (ANA_ORANGE, ANA_ORANGE_START, C_ORANGE, LW),
    (ANA_PINK, 1850, C_PINK, LW),
    (ANA_DKMAG, 1850, C_DKMAG, LW),
    (ANA_MAG, 1850, C_MAG, LW),
    (ANA_BLUE, 1850, C_BLUE, LW),
    (SST_BLUE, 1850, C_BLUE, LW),
    (ANA_BLACK, ANA_BLACK_START, "black", LW),
    (ANA_GOLD, ANA_GOLD_START, C_GOLD, LW),
]
lines_d = [
    (MAT_PINK, MAT_PINK_START, C_PINK, LW),
    (MAT_GOLD, MAT_GOLD_START, C_GOLD, LW),
    (MAT_BLUE, MAT_BLUE_START, C_BLUE, LW),
    (MAT_ORANGE, MAT_ORANGE_START, C_ORANGE, LW),
    (MAT_RED, MAT_RED_START, C_RED, LW),
    (MAT_GREEN, MAT_GREEN_START, C_GREEN, LW),
]

pa = panel(0, YDOM_ABC, lines_a, band=True)
pb = panel(1, YDOM_ABC, lines_b)
pc = panel(2, YDOM_ABC, lines_c, band=True)
pd_ = panel(3, YDOM_D, lines_d, xlabels=True)

chart = alt.vconcat(pa, pb, pc, pd_, spacing=0, bounds="flush").resolve_scale(
    y="independent", x="independent").properties(
    padding={"left": 14, "top": 8, "right": 0, "bottom": 0},
    background="white").configure(font=FONT).configure_view(
    stroke="black", strokeWidth=1.5)

chart.save("out.html", embed_options={"renderer": "svg", "actions": False})
